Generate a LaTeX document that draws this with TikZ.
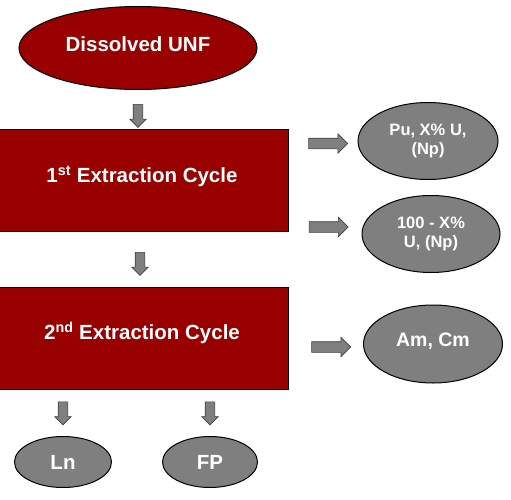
\documentclass[tikz,border=0pt]{standalone}
\usepackage{fontspec}
\setmainfont{Liberation Sans}
\usetikzlibrary{shapes.geometric,shapes.arrows}

\definecolor{darkred}{HTML}{990000}
\definecolor{midgrey}{HTML}{7F7F7F}
\definecolor{edgegrey}{HTML}{3F3F3F}

\begin{document}
\begin{tikzpicture}[x=1pt,y=-1pt]
\tikzstyle{feed}=[ellipse,draw=black,line width=1pt,fill=darkred,text=white,inner sep=0pt,text depth=8pt,font=\bfseries\fontsize{20.5}{24}\selectfont]
\tikzstyle{cycle}=[rectangle,draw=black,line width=1pt,fill=darkred,text=white,inner sep=0pt,font=\bfseries\fontsize{20.5}{24}\selectfont]
\tikzstyle{product}=[ellipse,draw=black,line width=1pt,fill=midgrey,text=white,inner sep=0pt,align=center]
\tikzstyle{blockarrow}=[single arrow,draw=edgegrey,fill=midgrey,line width=0.6pt,inner sep=5pt,minimum width=19pt,minimum height=39pt,single arrow head extend=4.5pt]
\tikzstyle{downarrow}=[blockarrow,rotate=-90,inner sep=4.5pt,minimum width=16pt,minimum height=23pt,single arrow head extend=3.5pt]

\useasboundingbox (0,0) rectangle (511,500);

% feed and extraction cycles
\node[feed,minimum width=238pt,minimum height=83pt] (unf) at (138,48) {Dissolved UNF};
\node[cycle,minimum width=292pt,minimum height=101pt,text depth=12pt] (c1) at (142,180.5) {1\textsuperscript{st} Extraction Cycle};
\node[cycle,minimum width=292pt,minimum height=102pt,text depth=14pt] (c2) at (142,338) {2\textsuperscript{nd} Extraction Cycle};

% products
\node[product,minimum width=140pt,minimum height=77pt,font=\bfseries\fontsize{16.5}{18.5}\selectfont] (pu) at (428,141) {Pu, X\% U,\\(Np)};
\node[product,minimum width=138pt,minimum height=77pt,font=\bfseries\fontsize{16.5}{18.5}\selectfont] (u) at (431,234) {100 - X\%\\U, (Np)};
\node[product,minimum width=139pt,minimum height=78pt,text depth=8pt,font=\bfseries\fontsize{19.5}{22}\selectfont] (am) at (433,344) {Am, Cm};
\node[product,minimum width=97pt,minimum height=51pt,font=\bfseries\fontsize{20.5}{24}\selectfont] (ln) at (63,462) {Ln};
\node[product,minimum width=95pt,minimum height=51pt,font=\bfseries\fontsize{20.5}{24}\selectfont] (fp) at (210,462) {FP};

% block arrows
\node[downarrow] (a1) at (138,113.5) {};
\node[downarrow] (a2) at (140,261.5) {};
\node[downarrow] (a3) at (63,411) {};
\node[downarrow] (a4) at (210,411) {};
\node[blockarrow] (a5) at (325.5,143.5) {};
\node[blockarrow] (a6) at (326,227) {};
\node[blockarrow] (a7) at (328.5,347) {};
\end{tikzpicture}
\end{document}
